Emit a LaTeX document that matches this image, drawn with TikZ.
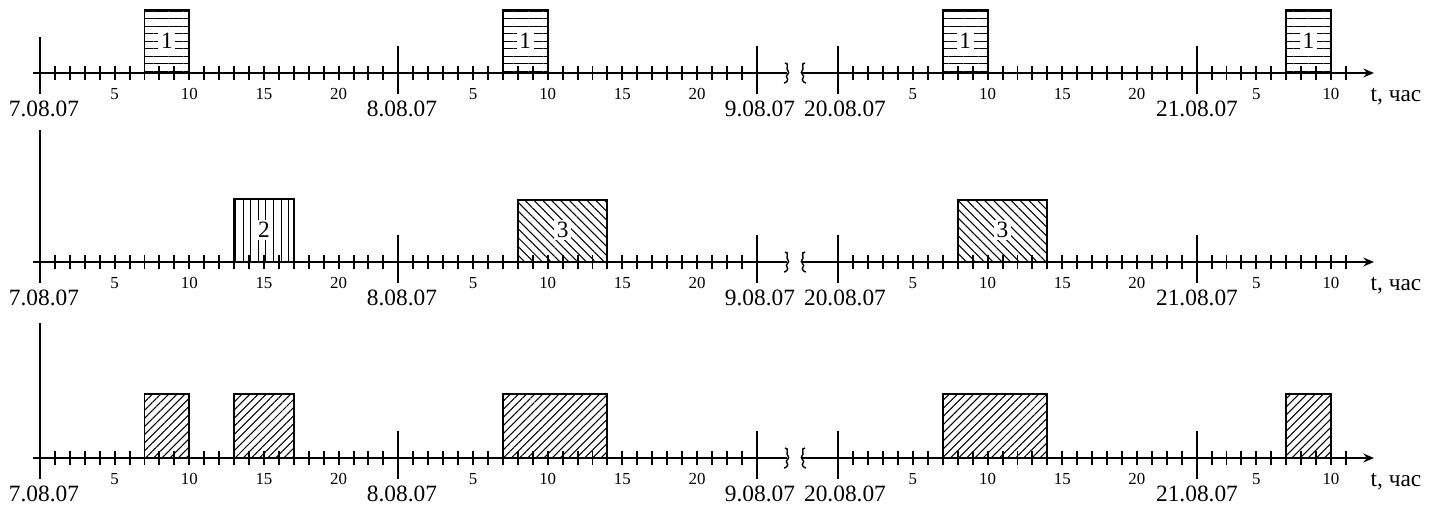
\documentclass[tikz,border=0pt]{standalone}
\usepackage{fontspec}
\setmainfont{Liberation Serif}
\usetikzlibrary{arrows.meta,patterns.meta}

% hour step and day origins (px)
\def\hs{14.93}
\def\dayA{40}
\def\dayB{398.4}
\def\dayC{756.8}
\def\dayD{838.3}
\def\dayE{1196.6}

\begin{document}
\begin{tikzpicture}[x=0.02cm,y=-0.02cm,line width=1.1pt,
    date/.style={inner sep=0pt,font=\fontsize{13.3}{15}\selectfont},
    hr/.style={inner sep=0pt,font=\fontsize{9.6}{10}\selectfont},
    num/.style={fill=white,inner sep=1.5pt,font=\fontsize{13.3}{15}\selectfont},
    hor/.style={pattern={Lines[angle=0,distance=0.15cm,line width=0.6pt]}},
    ver/.style={pattern={Lines[angle=90,distance=0.152cm,line width=0.6pt]}},
    nwl/.style={pattern={Lines[angle=-45,distance=0.125cm,line width=0.6pt]}},
    nel/.style={pattern={Lines[angle=45,distance=0.115cm,line width=0.6pt]}},
    brkR/.pic={\draw[line width=0.8pt] (-2,-10) .. controls (3,-10) and (-2,-4) .. (1,-2) .. controls (4,0) and (-3,3) .. (0,5) .. controls (2,7) and (-1,10) .. (-3,10);},
    brkL/.pic={\draw[line width=0.8pt] (2,-10) .. controls (-3,-10) and (2,-4) .. (-1,-2) .. controls (-4,0) and (3,3) .. (0,5) .. controls (-2,7) and (1,10) .. (3,10);}]
\useasboundingbox (0,0) rectangle (1440,506);

% Three time axes
\foreach \Y/\top/\r in {73/37/1, 262/130/2, 458/323/3}{
    % axis with break
    \draw (33,\Y) -- (787,\Y);
    \pic at (787,\Y) {brkR};
    \pic at (803,\Y) {brkL};
    \draw[-{Stealth[length=6pt,width=5pt]}] (802,\Y) -- (1374,\Y);
    % hour ticks
    \foreach \d in {\dayA,\dayB,\dayD}
        \foreach \h in {1,...,23}
            \draw (\d+\h*\hs,\Y-7) -- (\d+\h*\hs,\Y+7);
    \foreach \h in {1,...,10}
        \draw (\dayE+\h*\hs,\Y-7) -- (\dayE+\h*\hs,\Y+7);
    % day ticks
    \draw (\dayA,\top) -- (\dayA,\Y+21);
    \foreach \d in {\dayB,\dayC,\dayD,\dayE}
        \draw (\d,\Y-27) -- (\d,\Y+21);
    % hour labels
    \foreach \d [count=\i] in {\dayA,\dayB,\dayD}
        \foreach \h in {5,10,15,20}
            \node[hr] (hr\r-\i-\h) at (\d+\h*\hs,\Y+21) {\h};
    \node[hr] (hr\r-4-5) at (\dayE+4*\hs,\Y+21) {5};
    \node[hr] (hr\r-4-10) at (\dayE+9*\hs,\Y+21) {10};
    % dates
    \foreach \x/\t [count=\i] in {44/7.08.07, 402/8.08.07, 760/9.08.07, 845/20.08.07, 1197/21.08.07}
        \node[date] (date\r-\i) at (\x,\Y+36) {\t};
    \node[date] (unit\r) at (1396,\Y+24) {t, час};
}

% Row 1: job 1
\foreach \d [count=\i] in {\dayA,\dayB,\dayD}{
    \draw[hor] (\d+7*\hs,10) rectangle (\d+10*\hs,73);
    \node[num] (one\i) at (\d+8.5*\hs,41) {1};
}
\draw[hor] (\dayE+6*\hs,10) rectangle (\dayE+9*\hs,73);
\node[num] (one4) at (\dayE+7.5*\hs,41) {1};

% Row 2: jobs 2 and 3
\draw[ver] (\dayA+13*\hs,199) rectangle (\dayA+17*\hs,262);
\node[num] (two1) at (\dayA+15*\hs,230) {2};
\draw[nwl] (\dayB+8*\hs,200) rectangle (\dayB+14*\hs,262);
\node[num] (three1) at (\dayB+11*\hs,230) {3};
\draw[nwl] (\dayD+8*\hs,200) rectangle (\dayD+14*\hs,262);
\node[num] (three2) at (\dayD+11*\hs,230) {3};

% Row 3: total load
\draw[nel] (\dayA+7*\hs,394) rectangle (\dayA+10*\hs,458);
\draw[nel] (\dayA+13*\hs,394) rectangle (\dayA+17*\hs,458);
\draw[nel] (\dayB+7*\hs,394) rectangle (\dayB+14*\hs,458);
\draw[nel] (\dayD+7*\hs,394) rectangle (\dayD+14*\hs,458);
\draw[nel] (\dayE+6*\hs,394) rectangle (\dayE+9*\hs,458);
\end{tikzpicture}
\end{document}
